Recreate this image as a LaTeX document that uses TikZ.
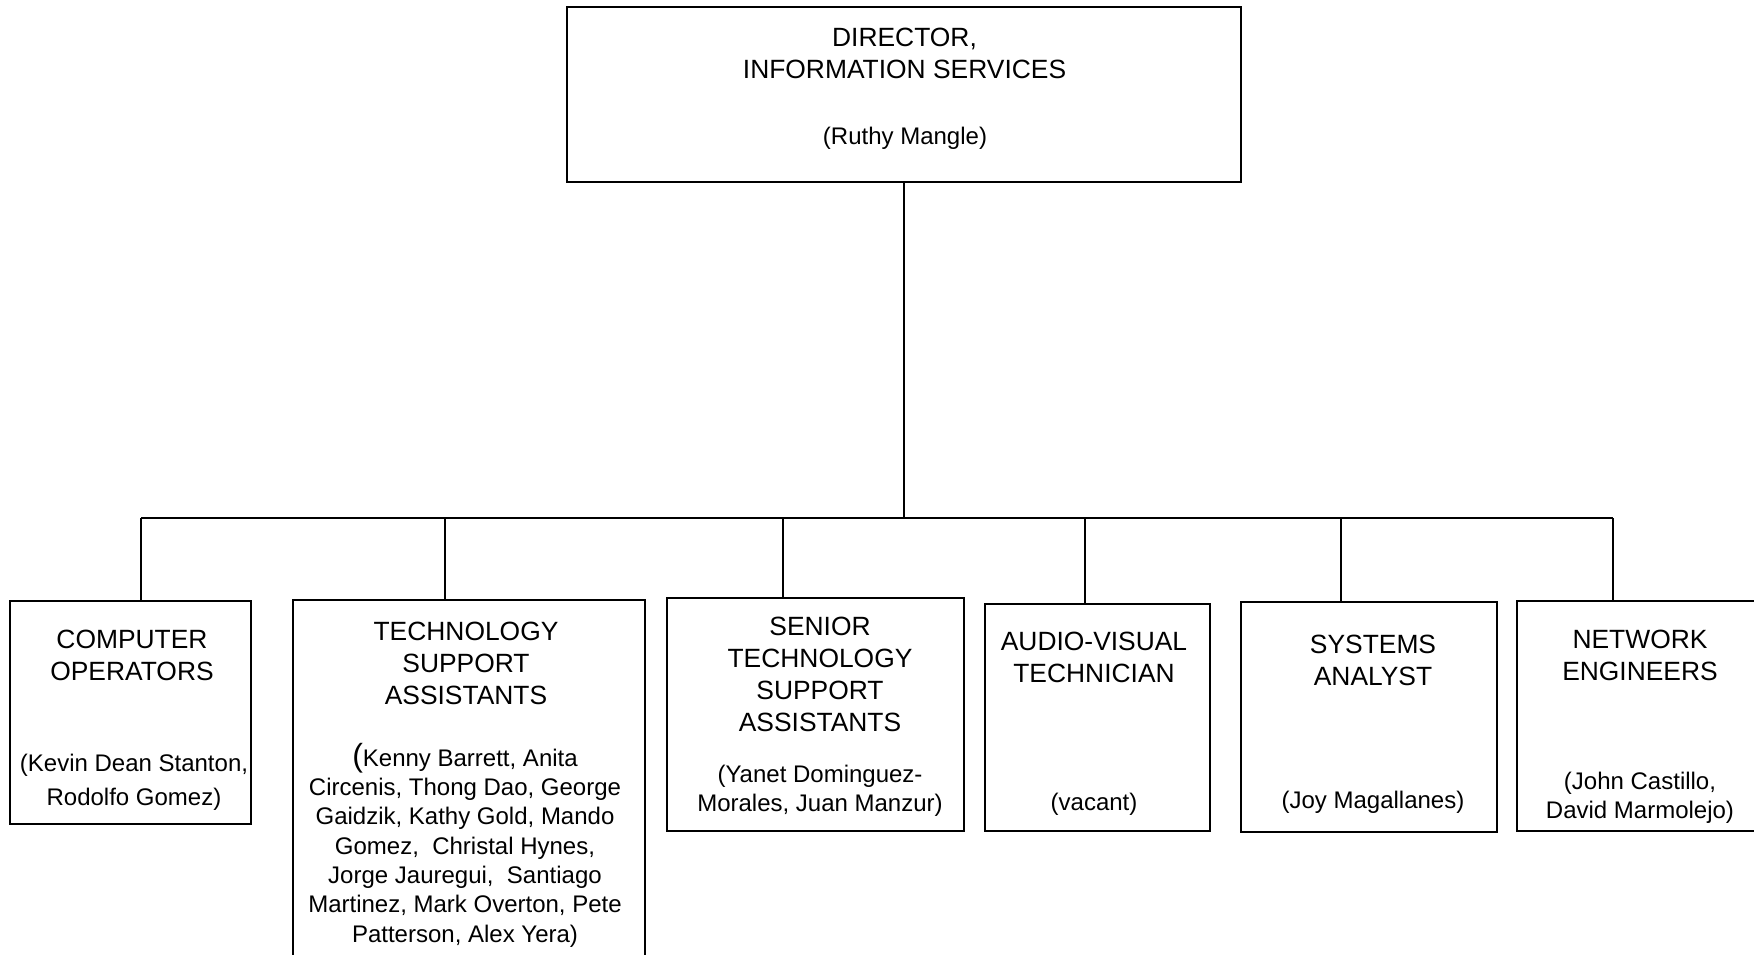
\documentclass[tikz,border=0pt]{standalone}
\usepackage{fontspec}
\setmainfont{Liberation Sans}
\begin{document}
\begin{tikzpicture}[x=1pt,y=-1pt,
  box/.style={draw, line width=1.3pt, inner sep=0pt},
  ttl/.style={align=center, font=\fontsize{26.4}{32}\selectfont, inner sep=0pt},
  nms/.style={align=center, font=\fontsize{24}{29.3}\selectfont, inner sep=0pt},
  conn/.style={line width=1.2pt}]
\useasboundingbox[fill=white] (0,0) rectangle (1754,955);
% boxes
\node[box, minimum width=674pt, minimum height=175pt] (dir) at (904,94.5) {};
\node[box, minimum width=241pt, minimum height=223pt] (co) at (130.5,712.5) {};
\node[box, minimum width=352pt, minimum height=375pt] (tsa) at (469,787.5) {};
\node[box, minimum width=297pt, minimum height=233pt] (stsa) at (815.5,714.5) {};
\node[box, minimum width=225pt, minimum height=227pt] (av) at (1097.5,717.5) {};
\node[box, minimum width=256pt, minimum height=230pt] (sa) at (1369,717) {};
\node[box, minimum width=246pt, minimum height=230pt] (ne) at (1640,716) {};
% texts
\node[ttl] (dirt) at (904.5,53) {DIRECTOR,\\INFORMATION SERVICES};
\node[nms] (dirn) at (905,138) {(Ruthy Mangle)};
\node[ttl] (cot) at (132,655) {COMPUTER\\OPERATORS};
\node[nms, font=\fontsize{24}{34}\selectfont] (con) at (134,782.5) {(Kevin Dean Stanton,\\Rodolfo Gomez)};
\node[ttl] (tsat) at (466,663) {TECHNOLOGY\\SUPPORT\\ASSISTANTS};
\node[nms] (tsan) at (465,845) {{\fontsize{32}{29.3}\selectfont(}Kenny Barrett, Anita\\Circenis, Thong Dao, George\\Gaidzik, Kathy Gold, Mando\\Gomez,~ Christal Hynes,\\Jorge Jauregui,~ Santiago\\Martinez, Mark Overton, Pete\\Patterson, Alex Yera)};
\node[ttl] (stsat) at (820,674.5) {SENIOR\\TECHNOLOGY\\SUPPORT\\ASSISTANTS};
\node[nms] (stsan) at (820,790.5) {(Yanet Dominguez-\\Morales, Juan Manzur)};
\node[ttl] (avt) at (1094,657.5) {AUDIO-VISUAL\\TECHNICIAN};
\node[nms] (avn) at (1094,804) {(vacant)};
\node[ttl] (sat) at (1373,660.5) {SYSTEMS\\ANALYST};
\node[nms] (san) at (1373,802) {(Joy Magallanes)};
\node[ttl] (net) at (1640,655) {NETWORK\\ENGINEERS};
\node[nms] (nen) at (1640,797.5) {(John Castillo,\\David Marmolejo)};
% connectors
\coordinate (b1) at (141,518);
\coordinate (b2) at (445,518);
\coordinate (b3) at (783,518);
\coordinate (b4) at (1085,518);
\coordinate (b5) at (1341,518);
\coordinate (b6) at (1613,518);
\draw[conn] (dir.south) -- (dir.south |- b1);
\draw[conn] (b1) -- (b6);
\draw[conn] (b1) -- (b1 |- co.north);
\draw[conn] (b2) -- (b2 |- tsa.north);
\draw[conn] (b3) -- (b3 |- stsa.north);
\draw[conn] (b4) -- (b4 |- av.north);
\draw[conn] (b5) -- (b5 |- sa.north);
\draw[conn] (b6) -- (b6 |- ne.north);
\end{tikzpicture}
\end{document}
